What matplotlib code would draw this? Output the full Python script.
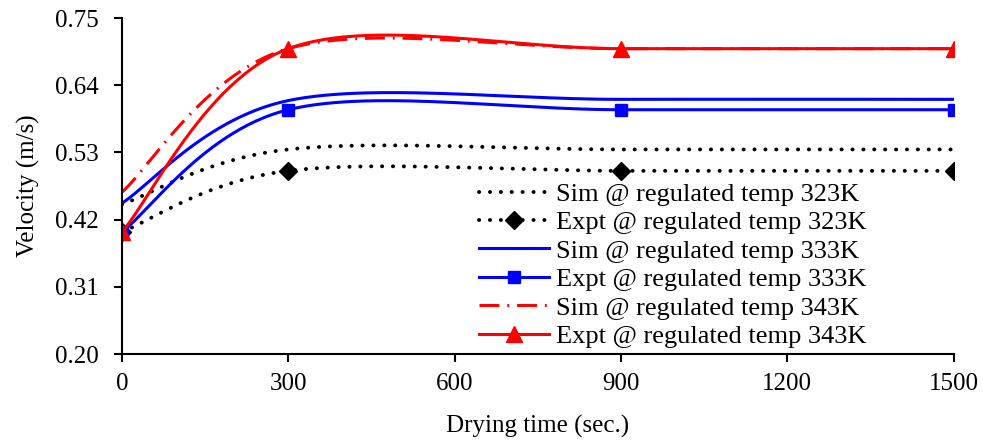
import matplotlib
matplotlib.use("Agg")
import matplotlib.pyplot as plt
import numpy as np

# Data
time = [0, 300, 900, 1500]
sim_323 = [0.445, 0.535, 0.535, 0.535]
expt_323 = [0.40, 0.50, 0.50, 0.50]
sim_333 = [0.447, 0.615, 0.617, 0.617]
expt_333 = [0.40, 0.60, 0.60, 0.60]
sim_343 = [0.465, 0.70, 0.70, 0.70]
expt_343 = [0.40, 0.70, 0.70, 0.70]

y_ticks = [0.20, 0.31, 0.42, 0.53, 0.64, 0.75]
x_ticks = [0, 300, 600, 900, 1200, 1500]


def smooth(x, y, n=60):
    """ Excel-style smoothed line: cubic Bezier between points """
    x = np.asarray(x, float)
    y = np.asarray(y, float)
    px = np.concatenate(([x[0]], x, [x[-1]]))
    py = np.concatenate(([y[0]], y, [y[-1]]))
    xs, ys = [], []
    t = np.linspace(0, 1, n)
    for i in range(1, len(x)):
        x0, y0 = px[i], py[i]
        x3, y3 = px[i + 1], py[i + 1]
        x1 = x0 + (px[i + 1] - px[i - 1]) / 6
        y1 = y0 + (py[i + 1] - py[i - 1]) / 6
        x2 = x3 - (px[i + 2] - px[i]) / 6
        y2 = y3 - (py[i + 2] - py[i]) / 6
        b0, b1, b2, b3 = (1 - t) ** 3, 3 * t * (1 - t) ** 2, 3 * t ** 2 * (1 - t), t ** 3
        xs.append(b0 * x0 + b1 * x1 + b2 * x2 + b3 * x3)
        ys.append(b0 * y0 + b1 * y1 + b2 * y2 + b3 * y3)
    return np.concatenate(xs), np.concatenate(ys)


plt.rcParams['font.family'] = ['Liberation Serif', 'DejaVu Serif']

fig = plt.figure(figsize=(9.83, 4.42), dpi=100)
ax = fig.add_axes([0.124, 0.199, 0.846, 0.760])

dot = (0, (0.05, 2.75))
dashdot = (0, (6.5, 2.6, 0.6, 2.6))
lw = 2.2

# Sim 323
sx, sy = smooth(time, sim_323)
ax.plot(sx, sy, color='black', lw=lw + 0.6, linestyle=dot, dash_capstyle='round')
# Expt 323
sx, sy = smooth(time, expt_323)
ax.plot(sx, sy, color='black', lw=lw + 0.6, linestyle=dot, dash_capstyle='round')
ax.plot(time, expt_323, 'D', color='black', ms=9, lw=0)
# Sim 333
sx, sy = smooth(time, sim_333)
ax.plot(sx, sy, color='#0000ff', lw=lw)
# Expt 333
sx, sy = smooth(time, expt_333)
ax.plot(sx, sy, color='#0000ff', lw=lw)
ax.plot(time, expt_333, 's', color='#0000ff', ms=8.5, lw=0)
# Sim 343
sx, sy = smooth(time, sim_343)
ax.plot(sx, sy, color='#ff0000', lw=lw, linestyle=dashdot)
# Expt 343
sx, sy = smooth(time, expt_343)
ax.plot(sx, sy, color='#ff0000', lw=lw)
ax.plot(time, expt_343, '^', color='#ff0000', ms=11, lw=0)

# legend proxies
h = [
    plt.Line2D([], [], color='black', lw=lw + 0.6, linestyle=dot, dash_capstyle='round'),
    plt.Line2D([], [], color='black', lw=lw + 0.6, linestyle=dot, dash_capstyle='round',
               marker='D', ms=9),
    plt.Line2D([], [], color='#0000ff', lw=lw),
    plt.Line2D([], [], color='#0000ff', lw=lw, marker='s', ms=8.5),
    plt.Line2D([], [], color='#ff0000', lw=lw, linestyle=dashdot),
    plt.Line2D([], [], color='#ff0000', lw=lw, marker='^', ms=11),
]
labels = ['Sim @ regulated temp 323K', 'Expt @ regulated temp 323K',
          'Sim @ regulated temp 333K', 'Expt @ regulated temp 333K',
          'Sim @ regulated temp 343K', 'Expt @ regulated temp 343K']
ax.legend(h, labels, loc='lower left', bbox_to_anchor=(0.4074, -0.0375), frameon=False,
          fontsize=19, handlelength=2.65, handletextpad=0.27, labelspacing=0.19,
          borderpad=0.2)

ax.set_xlim(0, 1500)
ax.set_ylim(0.20, 0.75)
ax.set_xticks(x_ticks)
ax.set_yticks(y_ticks)
ax.set_yticklabels(['%.2f' % v for v in y_ticks])
ax.spines['top'].set_visible(False)
ax.spines['right'].set_visible(False)
ax.spines['left'].set_linewidth(1.5)
ax.spines['bottom'].set_linewidth(1.5)
ax.tick_params(direction='out', length=6, width=1.5, labelsize=18)
ax.tick_params(axis='x', pad=8)
ax.tick_params(axis='y', pad=11)
ax.set_xlabel('Drying time (sec.)', fontsize=18, labelpad=14)
ax.set_ylabel('Velocity (m/s)', fontsize=18)
ax.yaxis.set_label_coords(-0.099, 0.5)

fig.savefig('out.png', dpi=100)
